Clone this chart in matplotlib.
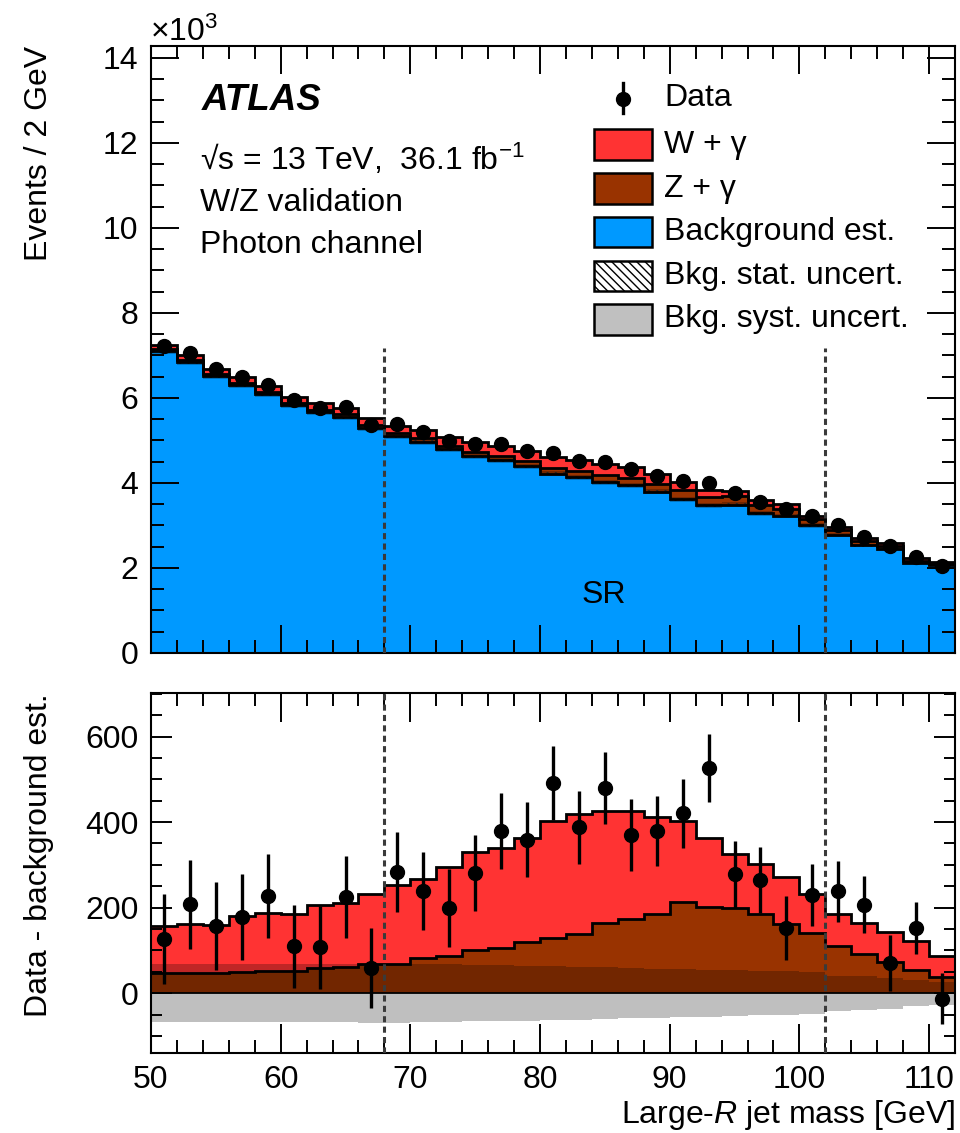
import numpy as np
import matplotlib
matplotlib.use("Agg")
import matplotlib.pyplot as plt
from matplotlib.patches import Rectangle
from matplotlib.lines import Line2D
from matplotlib.ticker import MultipleLocator

# ---------------- data ----------------
mass_edges = [50, 52, 54, 56, 58, 60, 62, 64, 66, 68, 70, 72, 74, 76, 78, 80,
              82, 84, 86, 88, 90, 92, 94, 96, 98, 100, 102, 104, 106, 108, 110, 112]

bkg_est = [7094, 6842, 6513, 6312, 6083, 5840, 5663, 5556, 5301, 5097, 4971,
           4791, 4630, 4531, 4391, 4219, 4132, 4020, 3951, 3791, 3619, 3474,
           3492, 3286, 3228, 3000, 2772, 2533, 2449, 2118, 2063]

w_gamma = [109, 114, 112, 130, 136, 133, 149, 149, 162, 183, 185, 207, 228, 234,
           244, 273, 281, 263, 251, 228, 190, 162, 127, 118, 110, 91, 75, 72, 70,
           67, 49]

z_gamma = [47, 48, 47, 50, 51, 52, 58, 61, 69, 69, 82, 88, 102, 105, 119, 130,
           139, 164, 174, 185, 213, 202, 198, 185, 162, 141, 110, 91, 72, 54, 38]

data_minus_bkg = [126, 208, 157, 178, 227, 110, 107, 224, 59, 283, 239, 199, 280,
                  379, 359, 491, 388, 480, 369, 379, 421, 526, 278, 264, 152, 230,
                  238, 207, 71, 152, -13]

data_err = [105, 104, 102, 100, 99, 97, 97, 96, 93, 93, 91, 91, 89, 89, 88, 87,
            85, 85, 84, 82, 81, 80, 79, 77, 75, 73, 71, 67, 65, 61, 59]

bkg_syst = [68, 68, 68, 68, 68, 68, 68, 68, 69, 69, 68, 67, 66, 65, 64, 63, 62,
            60, 59, 57, 56, 55, 54, 52, 51, 49, 41, 39, 36, 31, 27]

bkg_stat = [45, 44, 43, 43, 42, 41, 41, 40, 39, 39, 38, 38, 37, 37, 36, 36, 35,
            35, 34, 34, 33, 33, 33, 32, 32, 31, 30, 29, 29, 28, 28]

sr_bounds = [68, 102]
sr_line_top = 7180  # events, height of the SR markers in the upper panel

# ---------------- style ----------------
plt.rcParams["font.family"] = ["Liberation Sans", "DejaVu Sans"]
plt.rcParams["mathtext.fontset"] = "custom"
plt.rcParams["mathtext.rm"] = "Liberation Sans"
plt.rcParams["mathtext.it"] = "Liberation Sans:italic"
plt.rcParams["mathtext.bf"] = "Liberation Sans:bold"
plt.rcParams["hatch.linewidth"] = 1.0

RED = "#ff3333"
BROWN = "#993300"
BLUE = "#0099ff"
FS = 23
MS = 10
LW = 2.0

edges = np.array(mass_edges, dtype=float)
centers = 0.5 * (edges[:-1] + edges[1:])
bkg = np.array(bkg_est, float)
wg = np.array(w_gamma, float)
zg = np.array(z_gamma, float)
diff = np.array(data_minus_bkg, float)
derr = np.array(data_err, float)
syst = np.array(bkg_syst, float)
stat = np.array(bkg_stat, float)
data = bkg + diff

fig = plt.figure(figsize=(9.6, 11.33), dpi=100)
W, H = 960.0, 1133.0


def fx(px):
    return px / W


def fy(py):
    return 1 - py / H


ax1 = fig.add_axes([fx(151), fy(653), 804 / W, 607 / H])
ax2 = fig.add_axes([fx(151), fy(1053), 804 / W, 360 / H])

# ---------------- upper panel ----------------
k = 1000.0
ax1.stairs(bkg / k, edges, baseline=0, fill=True, color=BLUE, lw=0, zorder=1)
ax1.stairs((bkg + zg) / k, edges, baseline=bkg / k, fill=True, color=BROWN, lw=0, zorder=1)
ax1.stairs((bkg + zg + wg) / k, edges, baseline=(bkg + zg) / k, fill=True, color=RED, lw=0, zorder=1)
ax1.stairs((bkg + syst) / k, edges, baseline=(bkg - syst) / k, fill=True,
           color="k", alpha=0.25, lw=0, zorder=2)
ax1.stairs((bkg + stat) / k, edges, baseline=(bkg - stat) / k, fill=True,
           facecolor="none", edgecolor="#222222", hatch="\\\\\\\\", lw=0, zorder=2)
for arr in [bkg, bkg + zg, bkg + zg + wg]:
    ax1.stairs(arr / k, edges, baseline=None, color="k", lw=LW, zorder=3)
ax1.vlines(sr_bounds, 0, sr_line_top / k, colors="#3a3a3a",
           linestyles=(0, (2.0, 1.4)), lw=2.2, zorder=4)
ax1.errorbar(centers, data / k, yerr=derr / k, fmt="o", color="k", ms=MS,
             elinewidth=2.4, capsize=0, zorder=10)

ax1.set_xlim(50, 112)
ax1.set_ylim(0, 14.28)
ax1.xaxis.set_major_locator(MultipleLocator(10))
ax1.xaxis.set_minor_locator(MultipleLocator(2))
ax1.yaxis.set_major_locator(MultipleLocator(2))
ax1.yaxis.set_minor_locator(MultipleLocator(0.5))
ax1.tick_params(which="both", direction="in", top=True, right=True, width=1.4,
                labelsize=FS, labelbottom=False, pad=9)
ax1.tick_params(which="major", length=20)
ax1.tick_params(which="minor", length=9.5)
ax1.set_ylabel("Events / 2 GeV", fontsize=FS, loc="top")
ax1.yaxis.set_label_coords(-0.1206, 1.0)

# ---------------- lower panel ----------------
ax2.stairs(zg + wg, edges, baseline=0, fill=True, color=RED, lw=0, zorder=1)
ax2.stairs(zg, edges, baseline=0, fill=True, color=BROWN, lw=0, zorder=1)
ax2.stairs(syst, edges, baseline=-syst, fill=True, color="k", alpha=0.25, lw=0, zorder=2)
ax2.stairs(zg, edges, baseline=None, color="k", lw=LW, zorder=3)
ax2.stairs(zg + wg, edges, baseline=None, color="k", lw=LW, zorder=3)
ax2.axhline(0, color="k", lw=1.3, zorder=3)
for b in sr_bounds:
    ax2.axvline(b, color="#3a3a3a", ls=(0, (2.0, 1.4)), lw=2.2, zorder=4)
ax2.errorbar(centers, diff, yerr=derr, fmt="o", color="k", ms=MS,
             elinewidth=2.4, capsize=0, zorder=10)

ax2.set_xlim(50, 112)
ax2.set_ylim(-140, 702)
ax2.xaxis.set_major_locator(MultipleLocator(10))
ax2.xaxis.set_minor_locator(MultipleLocator(2))
ax2.yaxis.set_major_locator(MultipleLocator(200))
ax2.yaxis.set_minor_locator(MultipleLocator(50))
ax2.tick_params(which="both", direction="in", top=True, right=True, width=1.4,
                labelsize=FS, pad=9)
ax2.tick_params(axis="x", which="major", length=21)
ax2.tick_params(axis="x", which="minor", length=9.4)
ax2.tick_params(axis="y", which="major", length=15)
ax2.tick_params(axis="y", which="minor", length=7.7)
ax2.set_ylabel("Data - background est.", fontsize=FS, loc="top")
ax2.yaxis.set_label_coords(-0.1206, 1.0)
ax2.set_xlabel("Large-$R$ jet mass [GeV]", fontsize=FS, loc="right")
ax2.xaxis.set_label_coords(1.0, -0.125)

for ax in (ax1, ax2):
    for s in ax.spines.values():
        s.set_linewidth(1.5)

# ---------------- annotations ----------------
fig.text(fx(150), fy(32), r"$\times10^{3}$", fontsize=FS, ha="left", va="center")
fig.text(fx(202), fy(100), "ATLAS", fontsize=26.5, fontweight="bold",
         fontstyle="italic", ha="left", va="center")
fig.text(fx(200), fy(159), "\u221As = 13 TeV,  36.1 fb$^{-1}$", fontsize=FS,
         ha="left", va="center")
fig.text(fx(200), fy(203), "W/Z validation", fontsize=FS, ha="left", va="center")
fig.text(fx(200), fy(245), "Photon channel", fontsize=FS, ha="left", va="center")
fig.text(fx(604), fy(595), "SR", fontsize=FS, ha="center", va="center")

# legend
fig.add_artist(Line2D([fx(623), fx(623)], [fy(83), fy(113)], color="k", lw=2.4,
                      transform=fig.transFigure))
fig.add_artist(Line2D([fx(623)], [fy(99)], marker="o", ms=MS, color="k",
                      transform=fig.transFigure))
fig.text(fx(664), fy(98), "Data", fontsize=FS, ha="left", va="center")

leg_rows = [
    ("W + \u03b3", dict(facecolor=RED), 129, 160),
    ("Z + \u03b3", dict(facecolor=BROWN), 173, 204),
    ("Background est.", dict(facecolor=BLUE), 217, 247),
    ("Bkg. stat. uncert.", dict(facecolor="white", hatch="\\\\\\\\"), 261, 291),
    ("Bkg. syst. uncert.", dict(facecolor="#c0c0c0"), 304, 335),
]
for label, style, top, bot in leg_rows:
    fig.add_artist(Rectangle((fx(594), fy(bot)), 58 / W, (bot - top) / H,
                             transform=fig.transFigure, edgecolor="k", lw=1.8,
                             **style))
    fig.text(fx(664), fy(0.5 * (top + bot)), label, fontsize=FS, ha="left",
             va="center")

fig.savefig("out.png", dpi=100)
